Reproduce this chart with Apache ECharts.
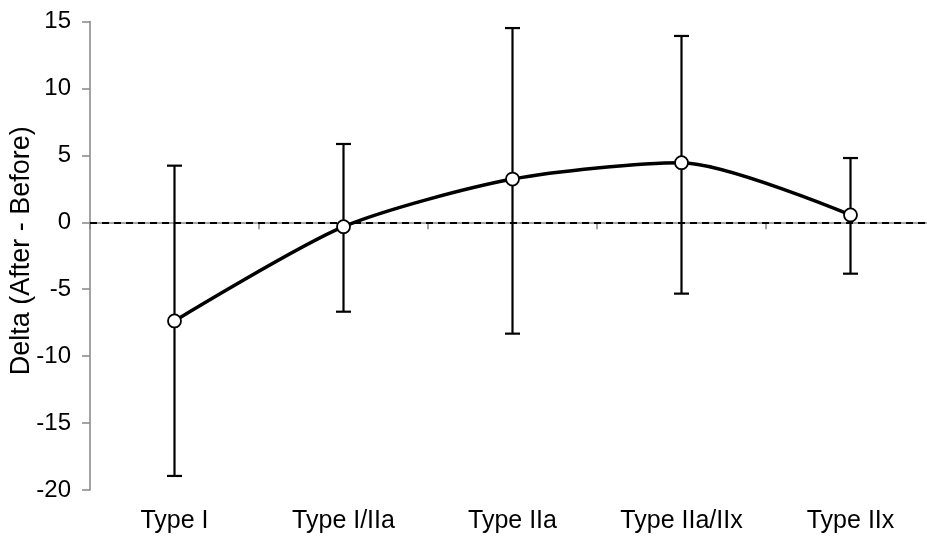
<!DOCTYPE html>
<html>
<head>
<meta charset="utf-8">
<script src="https://cdn.jsdelivr.net/npm/echarts@6/dist/echarts.min.js"></script>
<style>
  html, body { margin: 0; padding: 0; background: #fff; }
  #chart { width: 927px; height: 545px; }
</style>
</head>
<body>
<div id="chart"></div>
<script>
// fibre types on the x axis
const categories = ['Type I', 'Type I/IIa', 'Type IIa', 'Type IIa/IIx', 'Type IIx'];
// mean change (after - before)
const meanDelta = [-7.37, -0.33, 3.23, 4.45, 0.55];
// error bar ends
const upperDelta = [4.23, 5.85, 14.51, 13.92, 4.80];
const lowerDelta = [-18.95, -6.68, -8.32, -5.33, -3.84];
// y axis ticks
const yMin = -20;
const yMax = 15;
const yStep = 5;
const zeroLine = 0;

const chart = echarts.init(document.getElementById('chart'));

const fontFamily = '"Liberation Sans", Arial, sans-serif';
const axisGrey = '#868686';

const errorData = categories.map((c, i) => [i, lowerDelta[i], upperDelta[i]]);

const option = {
  animation: false,
  backgroundColor: '#ffffff',
  // axis runs past the right edge in the original, so the grid is allowed to overflow
  grid: { left: 90, top: 21.5, width: 845, height: 468.5, outerBoundsMode: 'none', containLabel: false },
  xAxis: {
    type: 'category',
    data: categories,
    boundaryGap: true,
    axisLine: { lineStyle: { color: axisGrey, width: 1.5 } },
    axisTick: { show: true, length: 7, lineStyle: { color: axisGrey, width: 1.5 } },
    axisLabel: { color: '#000', fontSize: 25, fontFamily: fontFamily, margin: 19 },
    splitLine: { show: false }
  },
  yAxis: {
    type: 'value',
    min: yMin,
    max: yMax,
    interval: yStep,
    name: 'Delta (After - Before)',
    nameLocation: 'middle',
    nameGap: 55,
    nameMoveOverlap: false,
    nameTextStyle: { color: '#000', fontSize: 27, fontFamily: fontFamily, padding: [0, 0, 0, 10] },
    axisLine: { show: true, lineStyle: { color: axisGrey, width: 1.5 } },
    axisTick: { show: true, length: 8, lineStyle: { color: axisGrey, width: 1.5 } },
    axisLabel: { color: '#000', fontSize: 24, fontFamily: fontFamily, margin: 19 },
    splitLine: { show: false }
  },
  series: [
    {
      // error bars
      type: 'custom',
      z: 2,
      silent: true,
      data: errorData,
      renderItem: (params, api) => {
        const x = api.value(0);
        const lo = api.coord([x, api.value(1)]);
        const hi = api.coord([x, api.value(2)]);
        const half = 7.5;
        const style = { stroke: '#000', lineWidth: 2.2 };
        return {
          type: 'group',
          children: [
            { type: 'line', shape: { x1: hi[0], y1: hi[1], x2: lo[0], y2: lo[1] }, style },
            { type: 'line', shape: { x1: hi[0] - half, y1: hi[1], x2: hi[0] + half, y2: hi[1] }, style },
            { type: 'line', shape: { x1: lo[0] - half, y1: lo[1], x2: lo[0] + half, y2: lo[1] }, style }
          ]
        };
      }
    },
    {
      name: 'Delta',
      type: 'line',
      z: 5,
      data: meanDelta,
      smooth: 0.25,
      symbol: 'circle',
      symbolSize: 13,
      lineStyle: { color: '#000', width: 3.5 },
      itemStyle: { color: '#fff', borderColor: '#000', borderWidth: 1.8 },
      markLine: {
        silent: true,
        symbol: 'none',
        label: { show: false },
        lineStyle: { color: '#000', type: [7, 5], width: 2 },
        data: [{ yAxis: zeroLine }]
      }
    }
  ]
};

chart.setOption(option);
</script>
</body>
</html>
